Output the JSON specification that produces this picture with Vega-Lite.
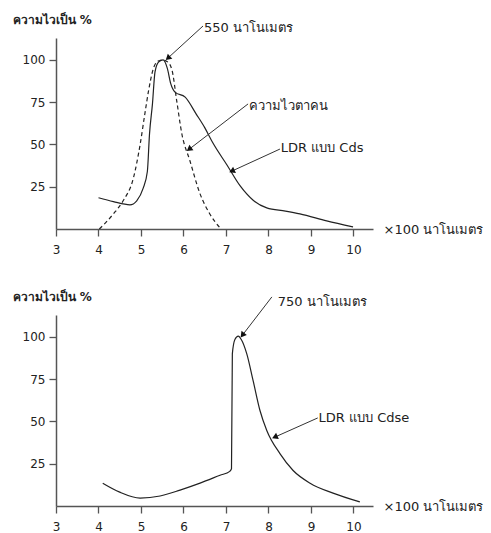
{
  "$schema": "https://vega.github.io/schema/vega-lite/v6.json",
  "background": "white",
  "padding": {"left": 12, "top": 13, "right": 5, "bottom": 5},
  "spacing": 35,
  "config": {
    "view": {"stroke": null},
    "font": "DejaVu Sans",
    "axis": {
      "grid": false,
      "domainColor": "#555",
      "domainWidth": 1.5,
      "tickColor": "#555",
      "tickWidth": 1.3,
      "tickSize": 7,
      "labelFontSize": 12,
      "labelColor": "#222",
      "titleFontSize": 13,
      "titleFontWeight": "normal",
      "titleColor": "#222",
      "labelFlush": false
    }
  },
  "datasets": {
    "top_cds": [
      {"x": 4.0, "y": 18.5}, {"x": 4.35, "y": 16.2}, {"x": 4.74, "y": 14.3}, {"x": 4.9, "y": 16.7},
      {"x": 5.05, "y": 24.0}, {"x": 5.15, "y": 34.0}, {"x": 5.2, "y": 56.0}, {"x": 5.27, "y": 74.0},
      {"x": 5.33, "y": 93.0}, {"x": 5.42, "y": 99.0}, {"x": 5.52, "y": 100.0}, {"x": 5.62, "y": 95.0},
      {"x": 5.7, "y": 86.0}, {"x": 5.8, "y": 81.0}, {"x": 6.04, "y": 78.0}, {"x": 6.3, "y": 68.0},
      {"x": 6.5, "y": 60.0}, {"x": 6.69, "y": 51.0}, {"x": 7.02, "y": 38.0}, {"x": 7.33, "y": 25.6},
      {"x": 7.64, "y": 17.0}, {"x": 7.96, "y": 12.5}, {"x": 8.4, "y": 10.6}, {"x": 8.74, "y": 8.9},
      {"x": 9.37, "y": 4.8}, {"x": 9.99, "y": 1.2}
    ],
    "top_eye": [
      {"x": 4.02, "y": 0.0}, {"x": 4.35, "y": 8.9}, {"x": 4.58, "y": 16.7}, {"x": 4.82, "y": 30.0},
      {"x": 4.98, "y": 50.0}, {"x": 5.09, "y": 68.0}, {"x": 5.18, "y": 82.0}, {"x": 5.28, "y": 94.0},
      {"x": 5.38, "y": 99.0}, {"x": 5.49, "y": 100.0}, {"x": 5.62, "y": 99.0}, {"x": 5.73, "y": 94.0},
      {"x": 5.84, "y": 76.0}, {"x": 5.96, "y": 56.5}, {"x": 6.15, "y": 40.5}, {"x": 6.39, "y": 20.8},
      {"x": 6.62, "y": 8.9}, {"x": 6.86, "y": 0.6}
    ],
    "bottom_cdse": [
      {"x": 4.1, "y": 13.5}, {"x": 4.5, "y": 8.2}, {"x": 4.98, "y": 4.7}, {"x": 5.45, "y": 5.9},
      {"x": 5.92, "y": 9.4}, {"x": 6.39, "y": 13.5}, {"x": 6.86, "y": 18.2}, {"x": 7.09, "y": 20.5},
      {"x": 7.13, "y": 22.0}, {"x": 7.15, "y": 90.0}, {"x": 7.21, "y": 98.5}, {"x": 7.29, "y": 100.5},
      {"x": 7.36, "y": 98.5}, {"x": 7.49, "y": 90.0}, {"x": 7.64, "y": 74.0}, {"x": 7.8, "y": 56.5},
      {"x": 7.96, "y": 44.7}, {"x": 8.27, "y": 31.0}, {"x": 8.58, "y": 21.0}, {"x": 8.98, "y": 13.5},
      {"x": 9.52, "y": 7.6}, {"x": 10.15, "y": 2.4}
    ],
    "top_arrows": [
      {"id": "a550", "x": 6.46, "y": 120.1, "x2": 5.65, "y2": 101.5},
      {"id": "aeye", "x": 7.52, "y": 74.0, "x2": 6.15, "y2": 47.5},
      {"id": "acds", "x": 8.27, "y": 47.3, "x2": 7.16, "y2": 34.5}
    ],
    "top_labels": [
      {"x": 6.48, "y": 119.0, "label": "550 นาโนเมตร"},
      {"x": 7.54, "y": 72.8, "label": "ความไวตาคน"},
      {"x": 8.29, "y": 47.9, "label": "LDR แบบ Cds"}
    ],
    "bottom_arrows": [
      {"id": "a750", "x": 8.08, "y": 123.7, "x2": 7.4, "y2": 101.5},
      {"id": "acdse", "x": 9.16, "y": 52.1, "x2": 8.17, "y2": 41.0}
    ],
    "bottom_labels": [
      {"x": 8.22, "y": 120.7, "label": "750 นาโนเมตร"},
      {"x": 9.18, "y": 52.1, "label": "LDR แบบ Cdse"}
    ]
  },
  "vconcat": [
    {
      "width": 317,
      "height": 191,
      "encoding": {
        "x": {"field": "x", "type": "quantitative",
          "scale": {"domain": [3, 10.46], "nice": false, "zero": false},
          "axis": {"values": [3, 4, 5, 6, 7, 8, 9, 10], "title": "×100 นาโนเมตร",
            "titleAngle": 0, "titleAlign": "left", "titleBaseline": "middle", "titleX": 327, "titleY": 0,
            "labelPadding": 8}},
        "y": {"field": "y", "type": "quantitative",
          "scale": {"domain": [0, 113], "nice": false},
          "axis": {"values": [25, 50, 75, 100], "title": "ความไวเป็น %",
            "titleAngle": 0, "titleAlign": "left", "titleBaseline": "middle", "titleX": -44, "titleY": -19,
            "titleFontWeight": "bold", "titleFontSize": 12, "labelPadding": 4}}
      },
      "layer": [
        {"data": {"name": "top_cds"}, "mark": {"type": "line", "color": "#222", "strokeWidth": 1.2, "interpolate": "monotone"}},
        {"data": {"name": "top_eye"}, "mark": {"type": "line", "color": "#222", "strokeWidth": 1.2, "strokeDash": [4, 3], "interpolate": "monotone"}},
        {"data": {"name": "top_arrows"}, "mark": {"type": "rule", "color": "#333", "strokeWidth": 1},
          "encoding": {"x2": {"field": "x2"}, "y2": {"field": "y2"}}},
        {"data": {"name": "top_arrows"}, "transform": [{"filter": "datum.id === 'a550'"}],
          "mark": {"type": "point", "shape": "triangle", "filled": true, "color": "#111", "opacity": 1, "size": 45, "angle": 228},
          "encoding": {"x": {"field": "x2", "type": "quantitative"}, "y": {"field": "y2", "type": "quantitative"}}},
        {"data": {"name": "top_arrows"}, "transform": [{"filter": "datum.id === 'aeye'"}],
          "mark": {"type": "point", "shape": "triangle", "filled": true, "color": "#111", "opacity": 1, "size": 45, "angle": 233},
          "encoding": {"x": {"field": "x2", "type": "quantitative"}, "y": {"field": "y2", "type": "quantitative"}}},
        {"data": {"name": "top_arrows"}, "transform": [{"filter": "datum.id === 'acds'"}],
          "mark": {"type": "point", "shape": "triangle", "filled": true, "color": "#111", "opacity": 1, "size": 45, "angle": 245},
          "encoding": {"x": {"field": "x2", "type": "quantitative"}, "y": {"field": "y2", "type": "quantitative"}}},
        {"data": {"name": "top_labels"}, "mark": {"type": "text", "align": "left", "baseline": "middle", "fontSize": 13, "color": "#222"},
          "encoding": {"text": {"field": "label"}}}
      ]
    },
    {
      "width": 317,
      "height": 191,
      "encoding": {
        "x": {"field": "x", "type": "quantitative",
          "scale": {"domain": [3, 10.46], "nice": false, "zero": false},
          "axis": {"values": [3, 4, 5, 6, 7, 8, 9, 10], "title": "×100 นาโนเมตร",
            "titleAngle": 0, "titleAlign": "left", "titleBaseline": "middle", "titleX": 327, "titleY": 0,
            "labelPadding": 8}},
        "y": {"field": "y", "type": "quantitative",
          "scale": {"domain": [0, 113], "nice": false},
          "axis": {"values": [25, 50, 75, 100], "title": "ความไวเป็น %",
            "titleAngle": 0, "titleAlign": "left", "titleBaseline": "middle", "titleX": -44, "titleY": -19,
            "titleFontWeight": "bold", "titleFontSize": 12, "labelPadding": 4}}
      },
      "layer": [
        {"data": {"name": "bottom_cdse"}, "mark": {"type": "line", "color": "#222", "strokeWidth": 1.2, "interpolate": "monotone"}},
        {"data": {"name": "bottom_arrows"}, "mark": {"type": "rule", "color": "#333", "strokeWidth": 1},
          "encoding": {"x2": {"field": "x2"}, "y2": {"field": "y2"}}},
        {"data": {"name": "bottom_arrows"}, "transform": [{"filter": "datum.id === 'a750'"}],
          "mark": {"type": "point", "shape": "triangle", "filled": true, "color": "#111", "opacity": 1, "size": 45, "angle": 218},
          "encoding": {"x": {"field": "x2", "type": "quantitative"}, "y": {"field": "y2", "type": "quantitative"}}},
        {"data": {"name": "bottom_arrows"}, "transform": [{"filter": "datum.id === 'acdse'"}],
          "mark": {"type": "point", "shape": "triangle", "filled": true, "color": "#111", "opacity": 1, "size": 45, "angle": 246},
          "encoding": {"x": {"field": "x2", "type": "quantitative"}, "y": {"field": "y2", "type": "quantitative"}}},
        {"data": {"name": "bottom_labels"}, "mark": {"type": "text", "align": "left", "baseline": "middle", "fontSize": 13, "color": "#222"},
          "encoding": {"text": {"field": "label"}}}
      ]
    }
  ]
}
